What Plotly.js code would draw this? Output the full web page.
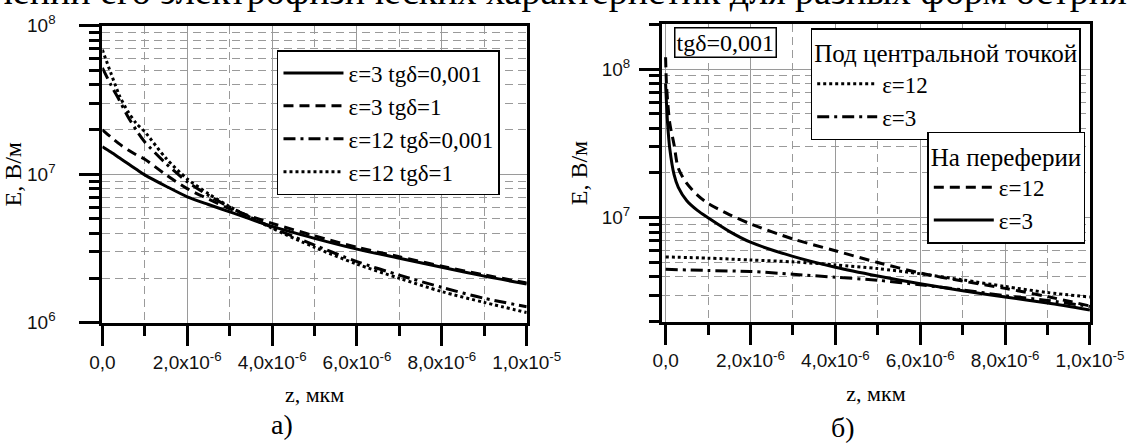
<!DOCTYPE html>
<html><head><meta charset="utf-8">
<script src="https://cdn.plot.ly/plotly-3.0.1.min.js"></script>
<style>html,body{margin:0;padding:0;background:#fff}#chart{width:1131px;height:445px}</style>
</head><body><div id="chart"></div>
<script>
// ---- Left chart (а): z in metres, E in V/m
const zLeft = [0, 0.2e-6, 0.4e-6, 0.6e-6, 0.8e-6, 1e-6, 1.5e-6, 2e-6, 2.5e-6, 3e-6, 4e-6, 5e-6, 6e-6, 7e-6, 8e-6, 9e-6, 10e-6];
const eps3tg0001  = [1.53e7, 1.41e7, 1.29e7, 1.18e7, 1.08e7, 9.9e6, 8.3e6, 7.05e6, 6.25e6, 5.58e6, 4.45e6, 3.70e6, 3.13e6, 2.72e6, 2.36e6, 2.06e6, 1.82e6];
const eps3tg1     = [1.99e7, 1.78e7, 1.60e7, 1.46e7, 1.35e7, 1.26e7, 9.9e6, 8.0e6, 6.8e6, 5.85e6, 4.67e6, 3.85e6, 3.22e6, 2.78e6, 2.40e6, 2.10e6, 1.85e6];
const eps12tg0001 = [5.2e7, 4.0e7, 3.15e7, 2.45e7, 1.98e7, 1.65e7, 1.18e7, 8.9e6, 7.2e6, 6.0e6, 4.38e6, 3.33e6, 2.58e6, 2.09e6, 1.73e6, 1.46e6, 1.28e6];
const eps12tg1    = [6.9e7, 4.8e7, 3.4e7, 2.65e7, 2.2e7, 1.93e7, 1.28e7, 9.3e6, 7.4e6, 6.05e6, 4.33e6, 3.22e6, 2.48e6, 1.99e6, 1.62e6, 1.37e6, 1.17e6];

// ---- Right chart (б), tgδ=0,001
const zEdge   = [0, 0.02e-6, 0.05e-6, 0.1e-6, 0.2e-6, 0.3e-6, 0.5e-6, 0.75e-6, 1e-6, 1.5e-6, 2e-6, 3e-6, 4e-6, 5e-6, 6e-6, 7e-6, 8e-6, 9e-6, 10e-6];
const edgeEps12 = [1.2e8, 8.0e7, 6.0e7, 4.3e7, 3.1e7, 2.15e7, 1.7e7, 1.42e7, 1.25e7, 1.05e7, 9.1e6, 7.2e6, 6.0e6, 5.0e6, 4.25e6, 3.75e6, 3.35e6, 2.95e6, 2.55e6];
const edgeEps3  = [8.0e7, 6.0e7, 4.2e7, 2.9e7, 1.95e7, 1.6e7, 1.3e7, 1.12e7, 1.0e7, 8.1e6, 6.85e6, 5.5e6, 4.65e6, 4.06e6, 3.6e6, 3.23e6, 2.93e6, 2.67e6, 2.4e6];
const zCenter = [0, 1e-6, 2e-6, 3e-6, 4e-6, 5e-6, 6e-6, 7e-6, 8e-6, 9e-6, 10e-6];
const centerEps12 = [5.45e6, 5.35e6, 5.2e6, 5.05e6, 4.82e6, 4.55e6, 4.2e6, 3.82e6, 3.45e6, 3.14e6, 2.93e6];
const centerEps3  = [4.5e6, 4.42e6, 4.35e6, 4.17e6, 3.98e6, 3.8e6, 3.54e6, 3.27e6, 2.99e6, 2.78e6, 2.53e6];

// ---- Tick labels
const xTickVals = [0, 2e-6, 4e-6, 6e-6, 8e-6, 1e-5];
const xTickText = ['0,0', '2,0x10<sup>-6</sup>', '4,0x10<sup>-6</sup>', '6,0x10<sup>-6</sup>', '8,0x10<sup>-6</sup>', '1,0x10<sup>-5</sup>'];
const yTickVals = [1e6, 1e7, 1e8];
const yTickText = ['10<sup>6</sup>', '10<sup>7</sup>', '10<sup>8</sup>'];
const yMinorMult = [2, 3, 4, 5, 6, 7, 8, 9];
const yMinorVals = [];
[1e6, 1e7, 1e8].forEach(d => yMinorMult.forEach(m => yMinorVals.push(m * d)));

const SERIF = 'Liberation Serif, Times New Roman, serif';
const SANS = 'Liberation Sans, Arial, sans-serif';
const DOT = '3px,3px', DASH = '10px,6px', DASHDOT = '12px,5px,3px,5px';

function tr(x, y, name, dash, xa, ya, legend) {
  return {x: x, y: y, name: name, type: 'scatter', mode: 'lines', xaxis: xa, yaxis: ya,
    legend: legend, line: {color: '#000', width: 3, dash: dash, shape: 'spline', smoothing: 0.8}};
}

const data = [
  tr(zLeft, eps3tg0001, 'ε=3 tgδ=0,001', 'solid', 'x', 'y', 'legend'),
  tr(zLeft, eps3tg1, 'ε=3 tgδ=1', DASH, 'x', 'y', 'legend'),
  tr(zLeft, eps12tg0001, 'ε=12 tgδ=0,001', DASHDOT, 'x', 'y', 'legend'),
  tr(zLeft, eps12tg1, 'ε=12 tgδ=1', DOT, 'x', 'y', 'legend'),
  tr(zCenter, centerEps12, 'ε=12', DOT, 'x2', 'y2', 'legend2'),
  tr(zCenter, centerEps3, 'ε=3', DASHDOT, 'x2', 'y2', 'legend2'),
  tr(zEdge, edgeEps12, 'ε=12', DASH, 'x2', 'y2', 'legend3'),
  tr(zEdge, edgeEps3, 'ε=3', 'solid', 'x2', 'y2', 'legend3')
];

function xAxis(domain, range, anchor) {
  return {domain: domain, range: range, anchor: anchor, showline: true, linewidth: 3, linecolor: '#000', mirror: true,
    ticks: 'outside', ticklen: 20, tickwidth: 3, tickcolor: '#000', tickmode: 'array', tickvals: xTickVals, ticktext: xTickText,
    tickfont: {family: SANS, size: 19, color: '#111'}, showgrid: true, gridcolor: '#9a9a9a', gridwidth: 1, zeroline: false,
    minor: {dtick: 1e-6, tick0: 0, ticks: 'outside', ticklen: 10, tickwidth: 3, tickcolor: '#000', showgrid: true,
      gridcolor: '#9a9a9a', gridwidth: 1, griddash: '8px,5px'},
    title: {text: 'z, мкм', font: {family: SERIF, size: 22, color: '#000'}, standoff: 16}};
}
function yAxis(domain, range, anchor, standoff) {
  return {type: 'log', domain: domain, range: range, anchor: anchor, showline: true, linewidth: 3, linecolor: '#000', mirror: true,
    ticks: 'outside', ticklen: 20, tickwidth: 3, tickcolor: '#000', tickmode: 'array', tickvals: yTickVals, ticktext: yTickText,
    tickfont: {family: SANS, size: 19, color: '#111'}, ticklabelstandoff: standoff,
    showgrid: true, gridcolor: '#9a9a9a', gridwidth: 1, zeroline: false,
    minor: {tickmode: 'array', tickvals: yMinorVals, ticks: 'outside', ticklen: 10, tickwidth: 3, tickcolor: '#000', showgrid: true,
      gridcolor: '#9a9a9a', gridwidth: 1, griddash: '8px,5px'},
    title: {text: 'E, В/м', font: {family: SERIF, size: 24, color: '#000'}, standoff: 8}};
}

const legendBase = {bgcolor: '#fff', bordercolor: '#000', borderwidth: 1.5, xanchor: 'left', yanchor: 'top',
  font: {family: SERIF, size: 23, color: '#000'}, itemwidth: 60, traceorder: 'normal'};

const layout = {
  width: 1131, height: 445, paper_bgcolor: '#fff', plot_bgcolor: '#fff', showlegend: true,
  margin: {l: 0, r: 0, t: 0, b: 0},
  font: {family: SERIF, color: '#000'},
  xaxis: xAxis([0.0905, 0.4657], [0, 1e-5], 'y'),
  yaxis: yAxis([0.2748, 0.9422], [6, 8], 'x', 20),
  xaxis2: xAxis([0.5853, 0.9637], [-0.085e-6, 1e-5], 'y2'),
  yaxis2: yAxis([0.2771, 0.9454], [6.301, 8.301], 'x2', 5),
  legend: Object.assign({}, legendBase, {x: 0.2449, y: 0.8876}),
  legend2: Object.assign({}, legendBase, {x: 0.7168, y: 0.9364,
    title: {text: 'Под центральной точкой', font: {family: SERIF, size: 25, color: '#000'}}}),
  legend3: Object.assign({}, legendBase, {x: 0.8199, y: 0.704,
    title: {text: 'На переферии', font: {family: SERIF, size: 25, color: '#000'}}}),
  annotations: [
    {xref: 'paper', yref: 'paper', x: 0.5959, y: 0.94, xanchor: 'left', yanchor: 'top', showarrow: false,
     text: 'tgδ=0,001', font: {family: SERIF, size: 24, color: '#000'}, bgcolor: '#fff', bordercolor: '#000', borderwidth: 1.5, borderpad: 1},
    {xref: 'paper', yref: 'paper', x: 0.249, y: 0.045, xanchor: 'center', yanchor: 'middle', showarrow: false,
     text: 'а)', font: {family: SERIF, size: 28, color: '#000'}},
    {xref: 'paper', yref: 'paper', x: 0.745, y: 0.04, xanchor: 'center', yanchor: 'middle', showarrow: false,
     text: 'б)', font: {family: SERIF, size: 28, color: '#000'}},
    {xref: 'paper', yref: 'paper', x: 0.998, y: 1.0202, xanchor: 'right', yanchor: 'middle', showarrow: false,
     text: 'значений его электрофизических характеристик для разных форм острия', font: {family: SERIF, size: 38, color: '#000'}}
  ]
};

Plotly.newPlot('chart', data, layout, {staticPlot: true, displayModeBar: false});
</script></body></html>
